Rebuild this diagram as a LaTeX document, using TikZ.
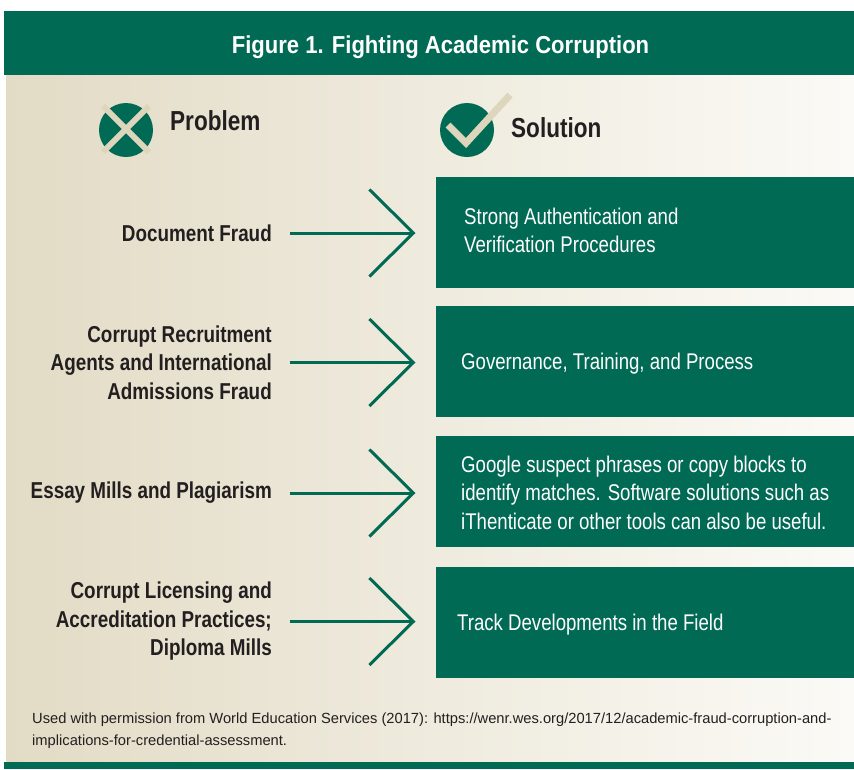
\documentclass[tikz,border=0pt]{standalone}
\usepackage{fontspec}
\setmainfont{Liberation Sans}[FakeStretch=0.82]
\newfontfamily\titlefont{Liberation Sans}[FakeStretch=0.9]
\newfontfamily\notefont{Liberation Sans}
\usetikzlibrary{arrows.meta,positioning}
\definecolor{wesgreen}{RGB}{0,106,84}
\definecolor{wesbeige}{RGB}{221,213,188}
\definecolor{bgleft}{RGB}{226,219,197}
\definecolor{bgright}{RGB}{251,250,246}
\definecolor{inkdark}{RGB}{35,31,32}
\tikzset{
	problem/.style={anchor=east, inner sep=0pt, align=right, text=inkdark, font=\fontsize{23}{28.5}\selectfont\bfseries},
	solbox/.style={anchor=north west, fill=wesgreen, minimum width=418pt, minimum height=111pt, inner sep=0pt},
	soltext/.style={anchor=west, inner sep=0pt, align=left, text=white, font=\fontsize{22.7}{28.5}\selectfont},
	heading/.style={anchor=base west, inner sep=0pt, text=inkdark, font=\fontsize{27.5}{32}\selectfont\bfseries},
	fixarrow/.style={wesgreen, line width=3pt, -{Straight Barb[length=44pt,width=87pt,line cap=butt,line join=miter]}, shorten <=17.5pt, shorten >=20.5pt}
}

\begin{document}
\begin{tikzpicture}[x=1pt,y=-1pt]
	\useasboundingbox (0,0) rectangle (854,769);
	\fill[white] (0,0) rectangle (854,769);
	\shade[left color=bgleft, right color=bgright] (6,75) rectangle (854,762);
	\fill[wesgreen] (4,11) rectangle (854,75);
	\fill[wesgreen] (4,762) rectangle (854,769);
	\node[anchor=base, inner sep=0pt, text=white, font=\titlefont\fontsize{24.5}{30}\selectfont\bfseries] (title) at (440.5,53) {Figure 1. Fighting Academic Corruption};

	\fill[wesgreen] (126,130) circle (27pt);
	\draw[wesbeige, line width=6pt] (103,106) -- (149,152) (149,106) -- (103,152);
	\node[heading] (problem) at (170,130.5) {Problem};
	\fill[wesgreen] (467,130) circle (27pt);
	\draw[wesbeige, line width=7pt] (448,125) -- (466,143) -- (510,95);
	\node[heading] (solution) at (511,137) {Solution};

	\node[problem] (p1) at (272,233) {Document Fraud};
	\node[problem] (p2) at (272,362.5) {Corrupt Recruitment\\Agents and International\\Admissions Fraud};
	\node[problem] (p3) at (272,493) {Essay Mills and Plagiarism};
	\node[problem] (p4) at (272,621.5) {Corrupt Licensing and\\Accreditation Practices;\\Diploma Mills};

	\node[solbox] (s1) at (436,177) {};
	\node[solbox] (s2) at (436,306) {};
	\node[solbox] (s3) at (436,436) {};
	\node[solbox] (s4) at (436,567) {};
	\node[soltext] (t1) at (464,230.5) {Strong Authentication and\\Verification Procedures};
	\node[soltext] (t2) at (461,364) {Governance, Training, and Process};
	\node[soltext] (t3) at (461,492.5) {Google suspect phrases or copy blocks to\\identify matches. Software solutions such as\\iThenticate or other tools can also be useful.};
	\node[soltext] (t4) at (457,625) {Track Developments in the Field};

	\draw[fixarrow] (p1.east) -- (p1.east -| s1.west);
	\draw[fixarrow] (p2.east) -- (p2.east -| s2.west);
	\draw[fixarrow] (p3.east) -- (p3.east -| s3.west);
	\draw[fixarrow] (p4.east) -- (p4.east -| s4.west);

	\node[anchor=north west, align=left, inner sep=0pt, text=inkdark, font=\notefont\fontsize{14.7}{22}\selectfont] (note) at (32,713) {Used with permission from World Education Services (2017): https://wenr.wes.org/2017/12/academic-fraud-corruption-and-\\implications-for-credential-assessment.};
\end{tikzpicture}
\end{document}
